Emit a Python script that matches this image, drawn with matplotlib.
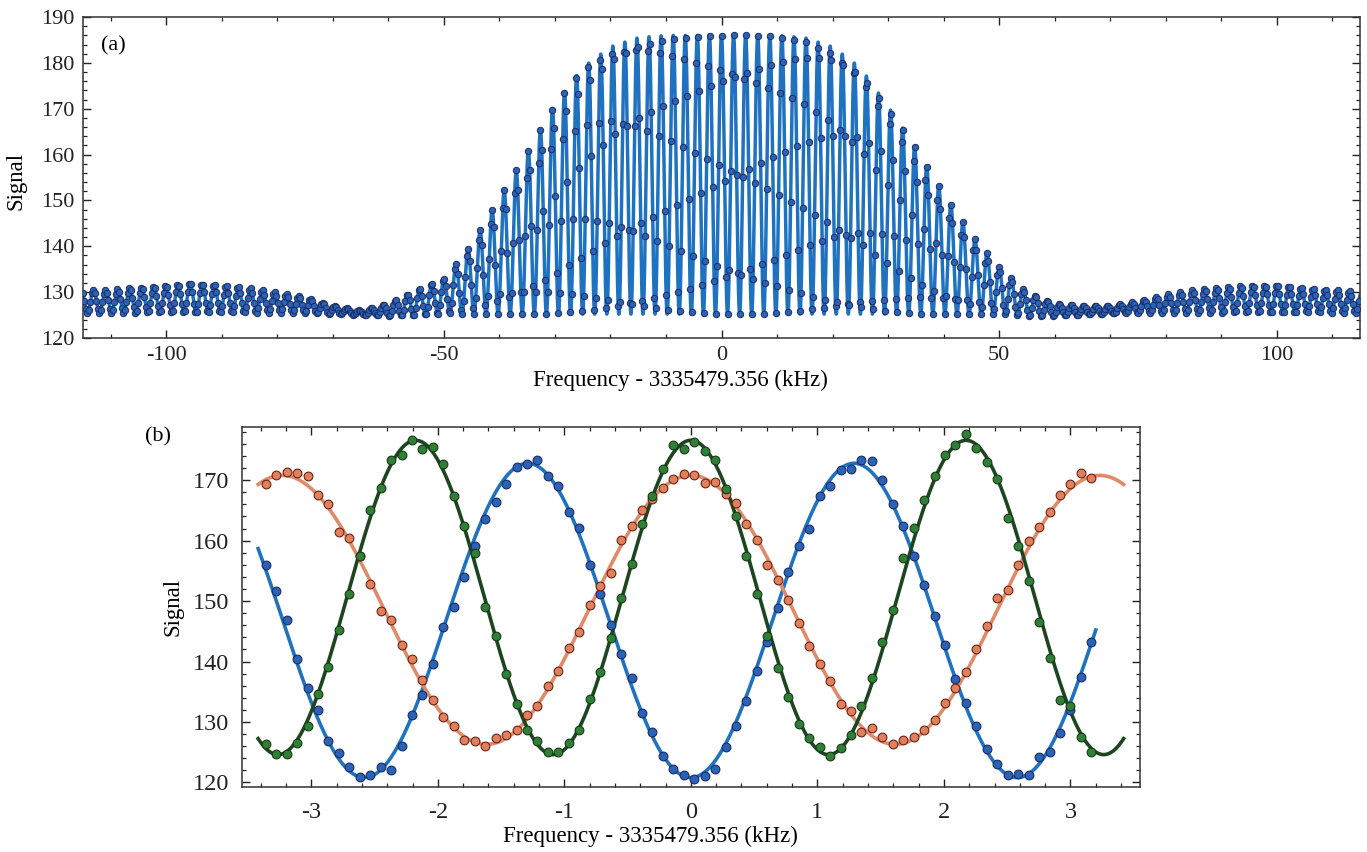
import numpy as np
import matplotlib
matplotlib.use('Agg')
import matplotlib.pyplot as plt
from matplotlib.ticker import MultipleLocator

plt.rcParams['font.family'] = ['Liberation Serif', 'DejaVu Serif']
plt.rcParams['axes.unicode_minus'] = False
plt.rcParams['font.size'] = 16

# ---- (a) Ramsey fringes: envelope every 5 kHz ----
env_freq = np.arange(-115, 116, 5)
env_top = [130.5, 130.5, 131.0, 131.5, 132.0, 131.5, 131.0, 130.0, 129.0, 127.0,
           126.0, 127.5, 130.5, 133.0, 140.5, 150.5, 160.5, 171.0, 179.0, 183.5,
           185.5, 186.0, 186.0, 186.0, 186.0, 186.0, 185.5, 183.5, 179.0, 170.5,
           161.5, 151.5, 142.5, 135.5, 130.0, 127.5, 127.0, 127.0, 128.0, 129.5,
           130.5, 131.0, 131.5, 131.5, 131.0, 130.5, 130.0]
env_bottom = [125.5] * 9 + [125.3, 125.0, 124.8, 124.8] + [125.2] * 21 + \
             [124.8, 124.8, 125.0, 125.3] + [125.5] * 9
fringe_period = 2.175   # kHz
scan_step = 0.27        # kHz

# ---- (b) three scans near line centre ----
freq_b = np.linspace(-3.36, 3.165, 80)
blue_sig = [155.9, 151.6, 146.9, 140.5, 135.6, 132.0, 126.8, 124.9, 122.5, 120.9,
            121.2, 122.5, 122.1, 126.1, 131.2, 134.4, 139.6, 145.7, 149.0, 154.0,
            159.1, 163.5, 166.4,
            169.3, 172.2, 172.7, 173.3, 170.7, 169.0, 164.8, 162.1, 156.0, 151.2,
            146.0, 141.2, 137.3, 131.5, 128.4, 124.4, 122.3, 121.3, 120.6, 121.1,
            122.3, 125.8, 129.4, 133.4, 138.4, 143.3, 148.9, 154.8, 159.1, 161.9,
            167.4,
            169.0, 171.7, 171.9, 173.3, 173.1, 170.0, 166.0, 162.4, 157.4, 152.6,
            147.6, 142.7, 137.1, 133.1, 129.4, 125.6, 123.0, 121.2, 121.4, 121.2,
            124.2, 125.0, 128.2, 132.0, 137.5, 143.2]
orange_sig = [169.4, 170.9, 171.3, 171.2, 170.7, 167.6, 166.0, 161.4, 160.5, 157.4,
              152.8, 148.4, 146.9, 142.7, 140.5, 137.0, 133.7, 130.8, 129.4, 127.1,
              126.8, 126.1, 127.3,
              127.9, 128.7, 131.1, 132.6, 135.9, 138.4, 142.2, 144.9, 149.4, 152.5,
              154.7, 160.1, 162.4, 165.0, 166.9, 168.7, 170.2, 171.0, 170.9, 169.6,
              169.7, 167.8, 166.2, 162.7, 160.1, 156.0, 153.5, 150.1, 146.3, 142.5,
              139.6,
              136.8, 133.0, 131.8, 128.4, 129.0, 127.5, 126.4, 127.0, 127.5, 128.7,
              130.4, 133.2, 135.6, 138.2, 142.0, 145.8, 150.5, 151.9, 156.0, 160.0,
              162.2, 164.8, 167.5, 169.3, 171.2, 170.4]
green_sig = [126.4, 124.7, 124.7, 126.6, 129.4, 134.7, 139.1, 145.3, 151.2, 157.4,
             165.0, 168.7, 173.3, 174.2, 176.6, 175.2, 175.5, 172.6, 167.4, 162.5,
             158.0, 149.0, 144.3,
             138.0, 133.0, 128.7, 126.8, 125.0, 125.0, 126.6, 128.7, 133.8, 138.3,
             143.9, 150.5, 156.2, 162.7, 167.4, 171.8, 175.9, 175.2, 176.3, 174.9,
             173.3, 168.6, 164.0, 157.4, 151.1, 144.2, 138.9, 134.2, 129.7, 127.3,
             125.8,
             124.4, 125.7, 127.9, 132.7, 137.3, 143.2, 148.6, 157.1, 162.1, 166.7,
             170.7, 174.2, 175.9, 177.6, 175.4, 173.0, 170.2, 163.8, 159.1, 153.4,
             146.5, 140.6, 133.7, 132.6, 127.5, 125.0]
# fitted cosines: offset, amplitude, period (kHz), fit range (kHz)
blue_fit = [146.8, -26.0, 2.58, (-3.42, 3.2)]
orange_fit = [148.55, 22.25, 3.23, (-3.42, 3.42)]
green_fit = [150.6, 26.0, 2.175, (-3.42, 3.42)]

line_blue = '#1f72c0'
dot_blue = '#2a62b5'
line_orange = '#e08a6a'
dot_orange = '#e0805c'
line_green = '#1d4620'
dot_green = '#2f8036'


def fringe(x):
    # fringe between the two envelopes
    hi = np.interp(x, env_freq, env_top)
    lo = np.interp(x, env_freq, env_bottom)
    return lo + (hi - lo) * (1 + np.cos(2 * np.pi * x / fringe_period)) / 2


def cos_fit(p):
    x = np.linspace(p[3][0], p[3][1], 600)
    return x, p[0] + p[1] * np.cos(2 * np.pi * x / p[2])


def style_axes(ax, size, pad):
    ax.tick_params(which='both', direction='in', top=True, right=True,
                   labelsize=size, colors='#222222', pad=pad)
    ax.tick_params(which='major', length=6, width=1)
    ax.tick_params(which='minor', length=3, width=0.9)
    for s in ax.spines.values():
        s.set_color('#333333')
        s.set_linewidth(1.1)


fig = plt.figure(figsize=(13.67, 8.52), dpi=100)

# ---- panel (a) ----
ax1 = fig.add_axes([0.0607, 0.6033, 0.9342, 0.3767])
xf = np.linspace(-115, 115, 12000)
ax1.plot(xf, fringe(xf), color=line_blue, lw=2.5, zorder=2)
xs = np.arange(-115, 115, scan_step)
ax1.plot(xs, fringe(xs), 'o', ms=4.6, mfc=dot_blue, mec='#1b2c66', mew=0.7, zorder=3)
ax1.set_xlim(-115, 115)
ax1.set_ylim(120, 190)
ax1.xaxis.set_major_locator(MultipleLocator(50))
ax1.xaxis.set_minor_locator(MultipleLocator(10))
ax1.yaxis.set_major_locator(MultipleLocator(10))
ax1.yaxis.set_minor_locator(MultipleLocator(2))
style_axes(ax1, 16, 6)
ax1.set_xlabel('Frequency - 3335479.356 (kHz)', fontsize=16.5)
ax1.xaxis.set_label_coords(0.468, -0.1)
ax1.set_ylabel('Signal', fontsize=16.5)
ax1.yaxis.set_label_coords(-0.044, 0.49)
ax1.text(0.014, 0.91, '(a)', transform=ax1.transAxes, fontsize=16, va='center')

# ---- panel (b) ----
ax2 = fig.add_axes([0.1768, 0.0767, 0.6572, 0.4221])
for p, c in [(blue_fit, line_blue), (orange_fit, line_orange), (green_fit, line_green)]:
    x, y = cos_fit(p)
    ax2.plot(x, y, color=c, lw=2.6, zorder=2)
for sig, fc, ec in [(blue_sig, dot_blue, '#1b2c66'), (orange_sig, dot_orange, '#6e2414'),
                    (green_sig, dot_green, '#173a17')]:
    ax2.plot(freq_b, sig, 'o', ms=6.3, mfc=fc, mec=ec, mew=0.8, zorder=3)
ax2.set_xlim(-3.55, 3.55)
ax2.set_ylim(119.3, 178.8)
ax2.xaxis.set_major_locator(MultipleLocator(1))
ax2.xaxis.set_minor_locator(MultipleLocator(0.2))
ax2.yaxis.set_major_locator(MultipleLocator(10))
ax2.yaxis.set_minor_locator(MultipleLocator(2))
style_axes(ax2, 17.5, 9)
ax2.tick_params(axis='x', pad=11)
ax2.set_xlabel('Frequency - 3335479.356 (kHz)', fontsize=16.5)
ax2.xaxis.set_label_coords(0.4545, -0.11)
ax2.set_ylabel('Signal', fontsize=16.5, labelpad=7)
fig.text(0.106, 0.487, '(b)', fontsize=16, va='center')

fig.savefig('out.png', dpi=100)
